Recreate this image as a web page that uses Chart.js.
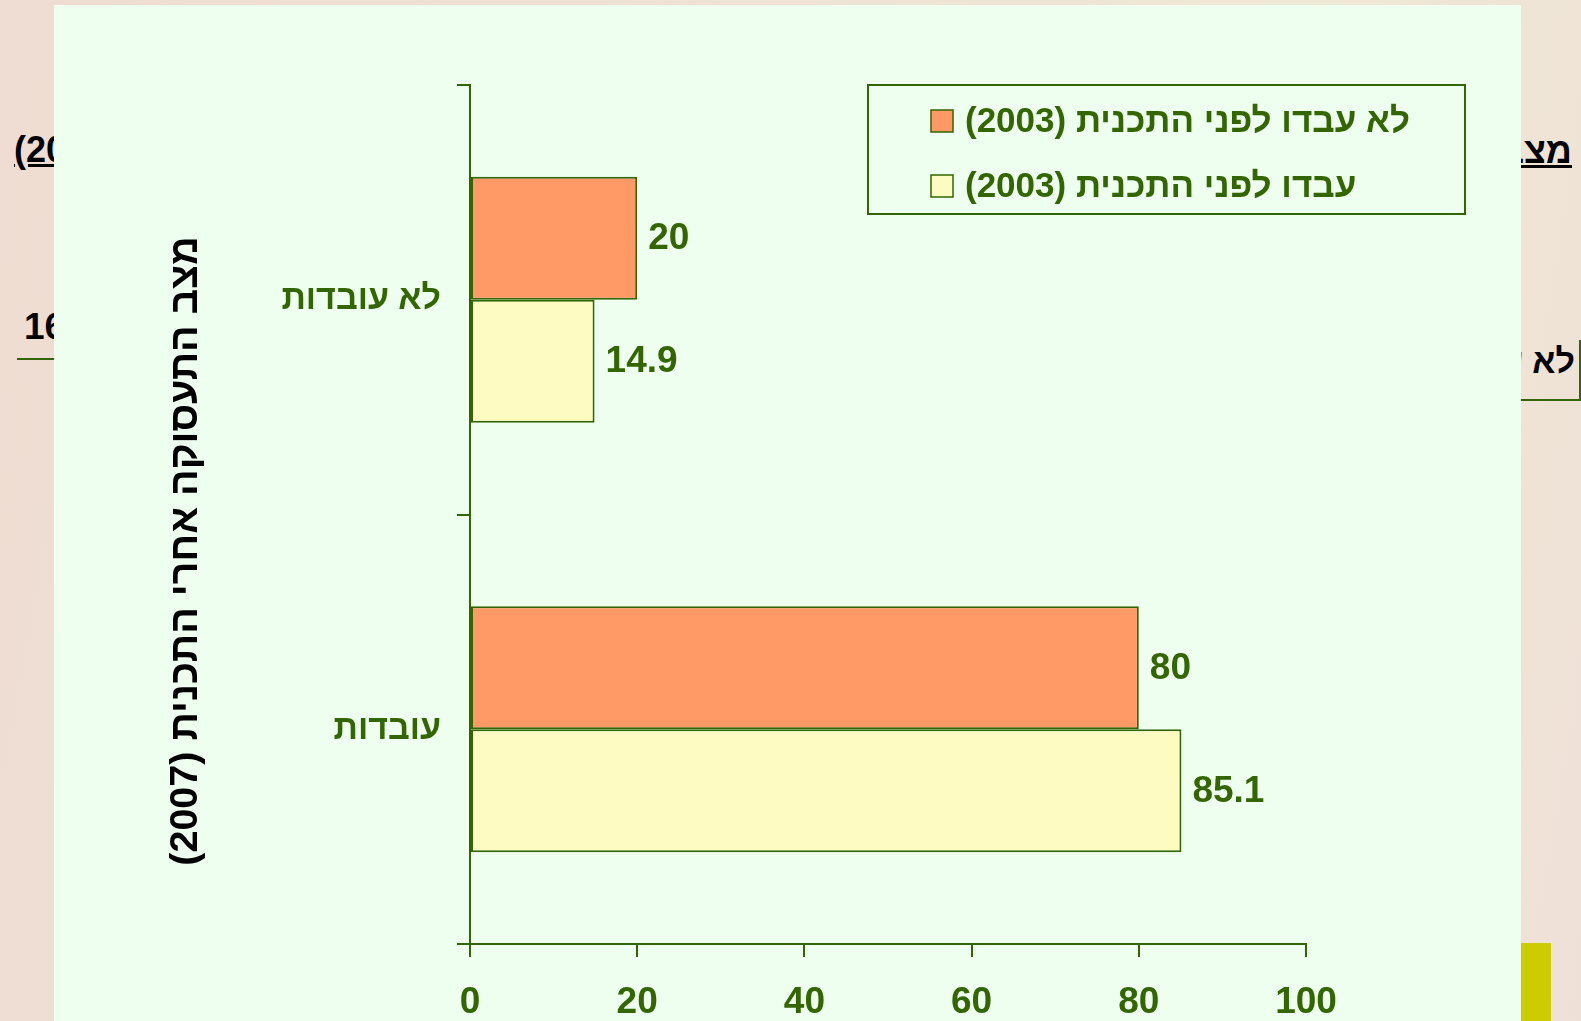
<!DOCTYPE html>
<html lang="he">
<head>
<meta charset="utf-8">
<title>מצב התעסוקה אחרי התכנית</title>
<script src="https://cdn.jsdelivr.net/npm/chart.js@4.4.1/dist/chart.umd.min.js"></script>
<style>
  html, body { margin: 0; padding: 0; }
  body {
    width: 1581px; height: 1021px; overflow: hidden; position: relative;
    background: linear-gradient(100deg, #efdcd2 0%, #eee3d5 45%, #eee9d4 75%, #efe0d7 100%);
    font-family: "Liberation Sans", Arial, sans-serif;
  }
  .bg { position: absolute; font-weight: bold; color: #000; white-space: nowrap; }
  .line { position: absolute; background: #336600; }
  #panel { position: absolute; left: 54px; top: 5px; width: 1467px; height: 1016px; background: #eefff0; }
  #chart { position: absolute; left: 0; top: 0; }
</style>
</head>
<body>
<!-- bits of the slide behind the chart -->
<div class="bg" style="left:14px; top:129px; font-size:36px; text-decoration:underline;">(2007)</div>
<div class="bg" style="left:24px; top:306px; font-size:37px;">16.0</div>
<div class="line" style="left:17px; top:358px; width:60px; height:2px;"></div>
<div class="bg" dir="rtl" style="right:9px; top:130px; font-size:36px; text-decoration:underline;">מצב</div>
<div class="bg" dir="rtl" style="right:6px; top:342px; font-size:34px;">לא עובדות</div>
<div class="line" style="left:1579px; top:340px; width:2px; height:61px;"></div>
<div class="line" style="left:1500px; top:399px; width:81px; height:2px;"></div>
<div style="position:absolute; left:1521px; top:943px; width:30px; height:78px; background:#cccc00;"></div>

<div id="panel"></div>
<canvas id="chart" width="1581" height="1021" dir="rtl"></canvas>

<script>
document.addEventListener("DOMContentLoaded", function () {

  // data
  const categories = ['לא עובדות', 'עובדות'];
  const seriesNames = ['לא עבדו לפני התכנית (2003)', 'עבדו לפני התכנית (2003)'];
  const notWorkedBefore = [20, 80];
  const workedBefore = [14.9, 85.1];
  const xTicks = [0, 20, 40, 60, 80, 100];
  const yTitle = 'מצב התעסוקה אחרי התכנית (2007)';

  const green = '#336600';
  const family = '"Liberation Sans", Arial, sans-serif';
  const numFont = { family: family, size: 37, weight: 'bold' };
  const catFont = { family: family, size: 34, weight: 'bold' };

  // numbers at the end of each bar
  const valueLabels = {
    id: 'valueLabels',
    afterDatasetsDraw(chart) {
      const ctx = chart.ctx;
      ctx.save();
      ctx.font = 'bold 37px ' + family;
      ctx.fillStyle = green;
      ctx.textAlign = 'left';
      ctx.textBaseline = 'middle';
      chart.data.datasets.forEach((ds, i) => {
        chart.getDatasetMeta(i).data.forEach((bar, j) => {
          ctx.fillText(String(ds.data[j]), bar.x + 11, bar.y + 1);
        });
      });
      ctx.restore();
    }
  };

  // boxed legend inside the plot + black axis title
  const extras = {
    id: 'extras',
    afterDraw(chart) {
      const ctx = chart.ctx;
      ctx.save();
      ctx.strokeStyle = green;
      ctx.lineWidth = 2;
      ctx.strokeRect(868, 85, 597, 129);
      ctx.font = 'bold 35px ' + family;
      ctx.textAlign = 'left';
      ctx.textBaseline = 'middle';
      chart.data.datasets.forEach((ds, i) => {
        const y = 121 + i * 65;
        ctx.fillStyle = ds.backgroundColor;
        ctx.fillRect(931, y - 11, 22, 22);
        ctx.lineWidth = 1.5;
        ctx.strokeRect(931, y - 11, 22, 22);
        ctx.fillStyle = green;
        ctx.fillText(ds.label, 965, y + 1);
      });

      ctx.translate(186, 551);
      ctx.rotate(-Math.PI / 2);
      ctx.font = 'bold 39.5px ' + family;
      ctx.fillStyle = '#000';
      ctx.textAlign = 'center';
      ctx.fillText(yTitle, 0, 0);
      ctx.restore();
    }
  };

  new Chart(document.getElementById('chart'), {
    type: 'bar',
    data: {
      labels: categories,
      datasets: [
        {
          label: seriesNames[0],
          data: notWorkedBefore,
          backgroundColor: '#ff9966'
        },
        {
          label: seriesNames[1],
          data: workedBefore,
          backgroundColor: '#fdfbc2'
        }
      ]
    },
    options: {
      indexAxis: 'y',
      responsive: false,
      animation: false,
      layout: { padding: { top: 85, right: 275, left: 0, bottom: 0 } },
      datasets: {
        bar: {
          barPercentage: 1,
          categoryPercentage: 0.573,
          borderWidth: 2,
          borderColor: green,
          borderSkipped: false
        }
      },
      plugins: {
        legend: { display: false },
        tooltip: { enabled: false }
      },
      scales: {
        x: {
          type: 'linear',
          min: 0,
          max: 100,
          afterBuildTicks: s => { s.ticks = xTicks.map(v => ({ value: v })); },
          afterFit: s => { s.height = 77; },
          grid: { drawOnChartArea: false, tickLength: 13, color: green, lineWidth: 2 },
          border: { color: green, width: 2 },
          ticks: { color: green, font: numFont, padding: 24, maxRotation: 0 }
        },
        y: {
          afterFit: s => { s.width = 470; },
          grid: { offset: true, drawOnChartArea: false, tickLength: 13, color: green, lineWidth: 2 },
          border: { color: green, width: 2 },
          ticks: { color: green, font: catFont, padding: 16 }
        }
      }
    },
    plugins: [valueLabels, extras]
  });

});
</script>
</body>
</html>
